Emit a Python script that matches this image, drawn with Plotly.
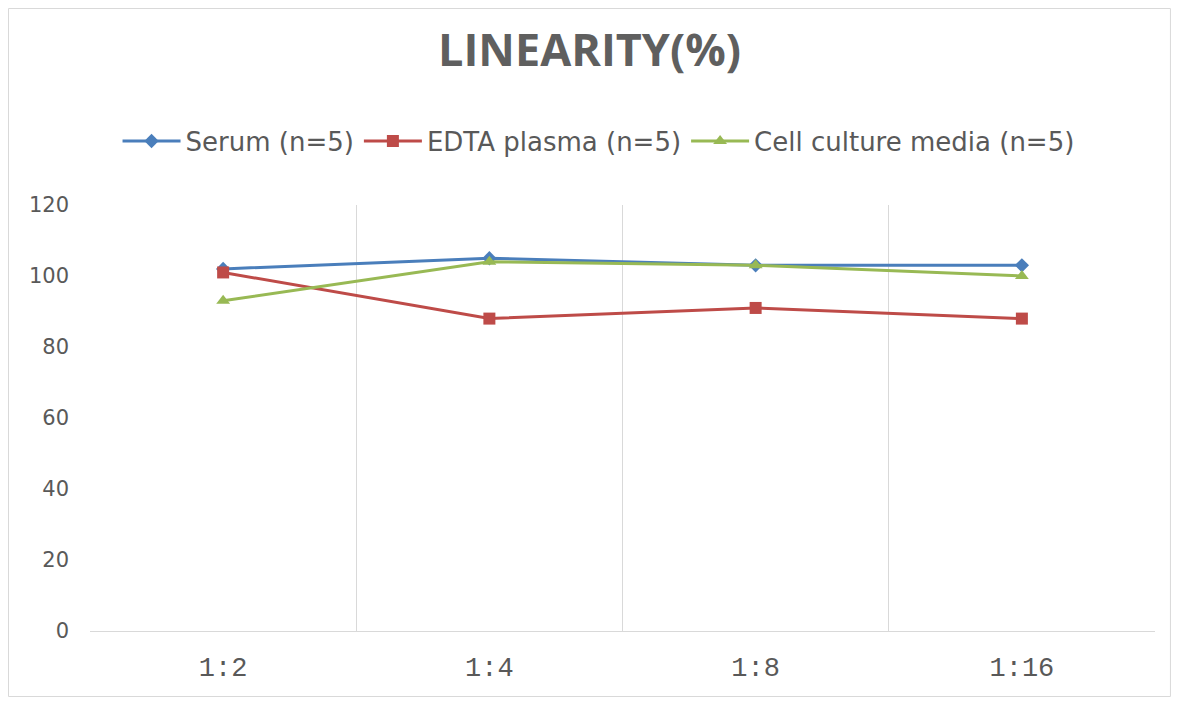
import plotly.graph_objects as go

categories = ["1:2", "1:4", "1:8", "1:16"]
serum = [102, 105, 103, 103]
edta = [101, 88, 91, 88]
cell = [93, 104, 103, 100]
series_names = ["Serum (n=5)", "EDTA plasma (n=5)", "Cell culture media (n=5)"]
y_ticks = [0, 20, 40, 60, 80, 100, 120]

colors = ["#4a7ebb", "#be4b48", "#98b954"]
symbols = ["diamond", "square", "triangle-up"]
sizes = [11, 12, 12]

xs = list(range(len(categories)))
fig = go.Figure()
for name, vals, c, s, sz in zip(series_names, [serum, edta, cell], colors, symbols, sizes):
    fig.add_trace(go.Scatter(x=xs, y=vals, name=name, mode="lines+markers",
                             line=dict(color=c, width=3),
                             marker=dict(symbol=s, size=sz, color=c)))

bounds = [i - 0.5 for i in range(len(categories) + 1)]
fig.add_trace(go.Scatter(x=[bounds[0]], y=[0], xaxis="x2", mode="markers",
                         marker=dict(opacity=0), showlegend=False, hoverinfo="skip"))

sans = "DejaVu Sans, sans-serif"
fig.update_layout(
    width=1163, height=689,
    paper_bgcolor="white", plot_bgcolor="white",
    margin=dict(l=82, r=16, t=197, b=66),
    title=dict(text="<b>LINEARITY(%)</b>", x=0.5, xanchor="center", y=0.939, yanchor="middle",
               font=dict(family="Open Sans, sans-serif", size=45, color="#5f5f5f")),
    legend=dict(orientation="h", x=0.4775, xanchor="center", y=1.15, yanchor="middle",
                font=dict(family=sans, size=26, color="#595959"), itemwidth=58),
    xaxis=dict(range=[-0.5, len(categories) - 0.5], tickvals=xs, ticktext=categories,
               showgrid=False, showline=True, linecolor="#d9d9d9", linewidth=1,
               ticks="", tickfont=dict(family="Liberation Mono, monospace", size=27, color="#595959"),
               zeroline=False, ticklabelstandoff=12),
    xaxis2=dict(range=[-0.5, len(categories) - 0.5], overlaying="x", tickvals=bounds,
                showticklabels=False, showgrid=True, gridcolor="#d9d9d9", gridwidth=1,
                zeroline=False, ticks=""),
    yaxis=dict(range=[0, 120], tickvals=y_ticks, showgrid=False, zeroline=False,
               showline=False, ticks="", tickfont=dict(family=sans, size=21, color="#595959"),
               ticklabelstandoff=20),
    showlegend=True,
)
fig.add_shape(type="rect", xref="paper", yref="paper", x0=-0.0765, x1=1.0145, y0=-0.1538, y1=1.4612,
              line=dict(color="#d9d9d9", width=1))
fig.write_html("out.html")
